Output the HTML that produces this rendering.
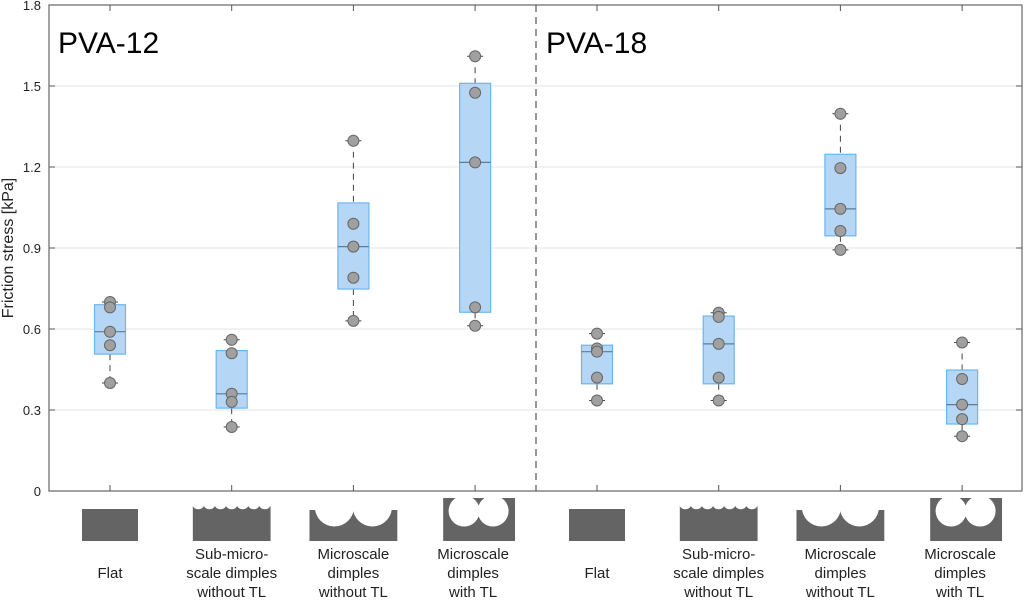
<!DOCTYPE html>
<html><head><meta charset="utf-8">
<style>
html,body{margin:0;padding:0;background:#fff;}
svg{display:block;font-family:"Liberation Sans",Arial,sans-serif;}
</style></head>
<body>
<svg id="chart" width="1024" height="600" viewBox="0 0 1024 600" xmlns="http://www.w3.org/2000/svg">
<defs id="defs"></defs>
<g id="grid"></g>
<g id="boxes"></g>
<g id="axes"></g>
<g id="icons"></g>
<text x="0" y="0" transform="translate(13,248) rotate(-90)" text-anchor="middle" font-size="16" fill="#222">Friction stress [kPa]</text>
<text x="58" y="53" font-size="30" fill="#000">PVA-12</text>
<text x="546" y="53" font-size="30" fill="#000">PVA-18</text>
</svg>
<script>
const categories = ["Flat","Sub-micro-scale dimples without TL","Microscale dimples without TL","Microscale dimples with TL","Flat","Sub-micro-scale dimples without TL","Microscale dimples without TL","Microscale dimples with TL"];
const q1Values = [0.507,0.307,0.748,0.662,0.397,0.397,0.945,0.248];
const medianValues = [0.59,0.36,0.905,1.217,0.516,0.545,1.045,0.32];
const q3Values = [0.69,0.52,1.067,1.51,0.54,0.648,1.247,0.448];
const whiskerLow = [0.40,0.237,0.63,0.612,0.335,0.335,0.893,0.203];
const whiskerHigh = [0.70,0.56,1.297,1.61,0.583,0.66,1.397,0.55];
const pointValues = [
  [0.70,0.68,0.59,0.54,0.40],
  [0.56,0.51,0.36,0.33,0.237],
  [1.297,0.99,0.905,0.79,0.63],
  [1.61,1.475,1.217,0.68,0.612],
  [0.583,0.528,0.516,0.42,0.335],
  [0.66,0.645,0.545,0.42,0.335],
  [1.397,1.196,1.045,0.963,0.893],
  [0.55,0.415,0.32,0.266,0.203]
];
const yTicks = [0,0.3,0.6,0.9,1.2,1.5,1.8];
const yTickLabels = ["0","0.3","0.6","0.9","1.2","1.5","1.8"];

const NS="http://www.w3.org/2000/svg";
const L=49,R=1022,T=5,B=491;
function y(v){return B-(v/1.8)*(B-T);}
function x(i){const half=i<4?0:1; const j=i%4; return half===0?110+j*121.7:597+j*121.7;}
function mk(tag,attrs,parent){const e=document.createElementNS(NS,tag);for(const k in attrs)e.setAttribute(k,attrs[k]);parent.appendChild(e);return e;}

const grid=document.getElementById('grid'),boxes=document.getElementById('boxes'),axes=document.getElementById('axes'),icons=document.getElementById('icons'),defs=document.getElementById('defs');
yTicks.forEach((t,i)=>{
  if(t>0&&t<1.8){const g=mk('line',{x1:L,x2:R,y1:y(t),y2:y(t),stroke:'#e6e6e6','stroke-width':1},grid);
  
  }
  mk('line',{x1:L,x2:L+6,y1:y(t),y2:y(t),stroke:'#555'},axes);
  mk('line',{x1:R-6,x2:R,y1:y(t),y2:y(t),stroke:'#555'},axes);
  const tx=mk('text',{x:L-8,y:y(t)+5,'text-anchor':'end','font-size':13,fill:'#222'},axes);
  tx.textContent=yTickLabels[i];
  
  
});
mk('rect',{x:L,y:T,width:R-L,height:B-T,fill:'none',stroke:'#666','stroke-width':1.2},axes);
const div=mk('line',{x1:536,x2:536,y1:T,y2:B,stroke:'#555','stroke-dasharray':'7,5','stroke-width':1.2},axes);



categories.forEach((c,i)=>{
  const cx=x(i);
  mk('line',{x1:cx,x2:cx,y1:B,y2:B-6,stroke:'#555'},axes);
  mk('line',{x1:cx,x2:cx,y1:T,y2:T+6,stroke:'#555'},axes);
  const g=mk('g',{},boxes);
  
  
  mk('line',{x1:cx,x2:cx,y1:y(whiskerHigh[i]),y2:y(q3Values[i]),stroke:'#444','stroke-dasharray':'6,5'},g);
  mk('line',{x1:cx,x2:cx,y1:y(q1Values[i]),y2:y(whiskerLow[i]),stroke:'#444','stroke-dasharray':'6,5'},g);
  mk('line',{x1:cx-8,x2:cx+8,y1:y(whiskerHigh[i]),y2:y(whiskerHigh[i]),stroke:'#444'},g);
  mk('line',{x1:cx-8,x2:cx+8,y1:y(whiskerLow[i]),y2:y(whiskerLow[i]),stroke:'#444'},g);
  const b=mk('rect',{x:cx-15.5,y:y(q3Values[i]),width:31,height:y(q1Values[i])-y(q3Values[i]),fill:'#b5d6f4',stroke:'#6cb6f0','stroke-width':1.2},g);
  
  
  mk('line',{x1:cx-15.5,x2:cx+15.5,y1:y(medianValues[i]),y2:y(medianValues[i]),stroke:'#5a7d99','stroke-width':1.2},g);
  pointValues[i].forEach(v=>{
    const p=mk('circle',{cx:cx,cy:y(v),r:5.5,fill:'#a0a0a0',stroke:'#666','stroke-width':1},g);
    
    
  });
  // icons
  const ig=mk('g',{},icons);
  
  
  const j=i%4, gray='#646464';
  let rx,ry,rw,rh,circ=[];
  if(j===0){rx=cx-28;ry=509;rw=56;rh=32;}
  if(j===1){rx=cx-39;ry=506;rw=78;rh=35;for(let k=0;k<7;k++)circ.push([rx+5.6+k*11.1,503,6.3]);}
  if(j===2){rx=cx-44;ry=510;rw=88;rh=31;circ.push([rx+25,507,19.5],[rx+63,507,19.5]);}
  if(j===3){rx=cx-32;ry=498;rw=72;rh=43;circ.push([rx+21,511,15.5],[rx+50,511,15.5]);}
  const cp=mk('clipPath',{id:'clip'+i},defs);
  mk('rect',{x:rx,y:ry,width:rw,height:rh},cp);
  const cg=mk('g',{'clip-path':'url(#clip'+i+')'},ig);
  mk('rect',{x:rx,y:ry,width:rw,height:rh,fill:gray},cg);
  circ.forEach(cc=>mk('circle',{cx:cc[0],cy:cc[1],r:cc[2],fill:'#fff'},cg));
  const lines = j===0?["Flat"]:j===1?["Sub-micro-","scale dimples","without TL"]:j===2?["Microscale","dimples","without TL"]:["Microscale","dimples","with TL"];
  const lx = cx + (j===3?-2:0);
  const ys = lines.length===1?[578]:[559,578,597];
  lines.forEach((s,k)=>{
    const t=mk('text',{x:lx,y:ys[k],'text-anchor':'middle','font-size':15,fill:'#222'},ig);
    t.textContent=s;
    
    
  });
});
</script>
</body></html>
